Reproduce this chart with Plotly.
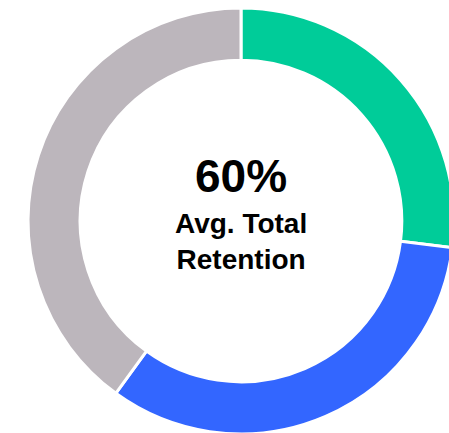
import plotly.graph_objects as go

labels = ["Segment A", "Segment B", "Segment C"]
values = [27, 33, 40]
colors = ["#00CC99", "#3366FF", "#BCB6BC"]
headline = "60%"
subtitle = "Avg. Total<br>Retention"

fig = go.Figure(go.Pie(
    labels=labels,
    values=values,
    hole=0.755,
    sort=False,
    direction="clockwise",
    rotation=0,
    marker=dict(colors=colors, line=dict(color="white", width=3)),
    textinfo="none",
    hoverinfo="label+value",
    showlegend=False,
))

W, H = 455, 435
L, R, T, B = 28, 1, 8, 1
ph = H - T - B

def py(Y):
    return (H - B - Y) / ph

fig.add_annotation(text="<b>" + headline + "</b>", x=0.5, y=py(176), xref="paper", yref="paper",
                   showarrow=False, xanchor="center", yanchor="middle",
                   font=dict(family="Liberation Sans, Arial", size=46, color="black"))
fig.add_annotation(text="<b>" + subtitle + "</b>", x=0.5, y=py(241), xref="paper", yref="paper",
                   showarrow=False, xanchor="center", yanchor="middle",
                   font=dict(family="Liberation Sans, Arial", size=28, color="black"))

fig.update_layout(
    width=W, height=H,
    margin=dict(l=L, r=R, t=T, b=B),
    paper_bgcolor="white", plot_bgcolor="white",
)

fig.write_html("out.html", config={"displayModeBar": False},
               post_script="document.body.style.margin='0';document.body.style.overflow='hidden';document.documentElement.style.overflow='hidden';")
